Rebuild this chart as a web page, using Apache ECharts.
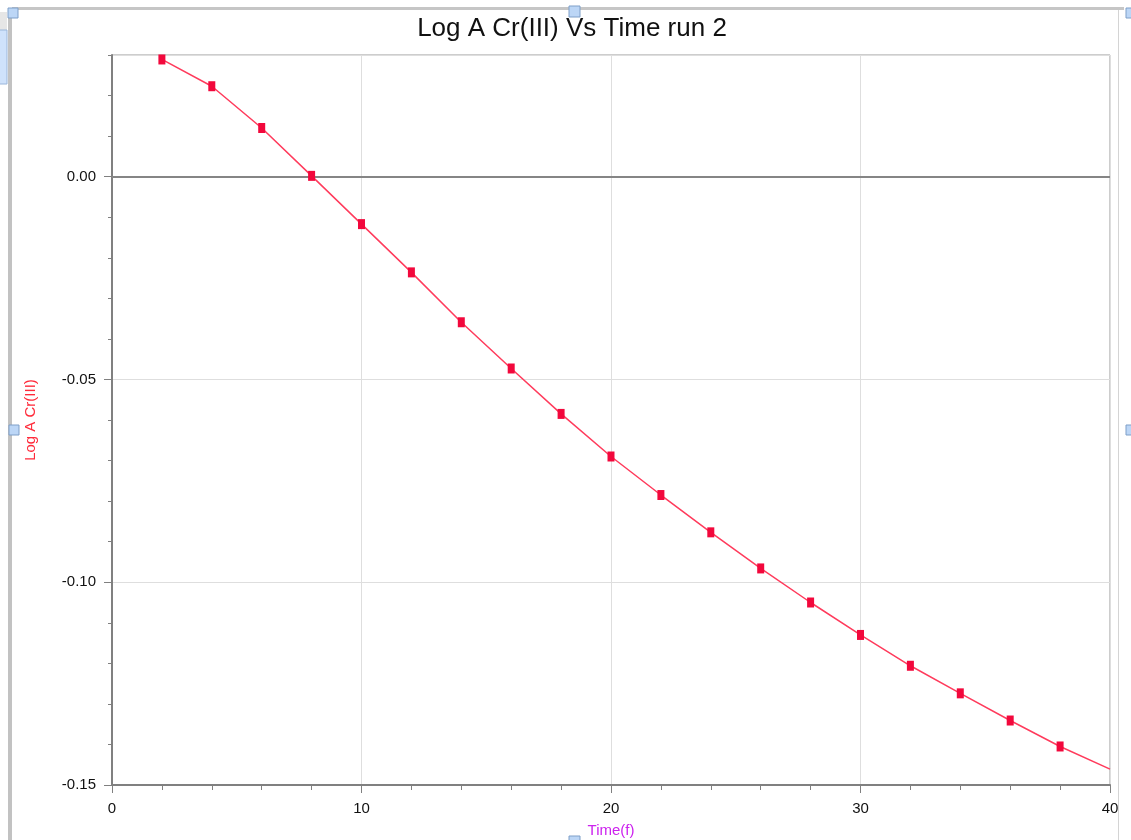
<!DOCTYPE html>
<html>
<head>
<meta charset="utf-8">
<title>Log A Cr(III) Vs Time run 2</title>
<script src="https://cdn.jsdelivr.net/npm/echarts@6/dist/echarts.min.js"></script>
<style>
  html, body { margin: 0; padding: 0; background: #ffffff; }
  #chart { width: 1131px; height: 840px; }
</style>
</head>
<body>
<div id="chart"></div>
<script>
// Time (f) readings and the matching log absorbance of Cr(III), run 2
const timeValues = [2, 4, 6, 8, 10, 12, 14, 16, 18, 20, 22, 24, 26, 28, 30, 32, 34, 36, 38, 40];
const logAValues = [0.0289, 0.0223, 0.0120, 0.0002, -0.0117, -0.0236, -0.0359, -0.0473, -0.0585, -0.0690,
                    -0.0785, -0.0877, -0.0966, -0.1050, -0.1130, -0.1206, -0.1274, -0.1341, -0.1405, -0.1461];
// the last reading sits on the right frame and has no visible marker
const hiddenMarkerTimes = [40];

const xTicks = { min: 0, max: 40, step: 10 };
const yTicks = { min: -0.15, max: 0.03, step: 0.05, minorStep: 0.01 };

const chartTitle = 'Log A Cr(III) Vs Time run 2';
const xName = 'Time(f)';
const yName = 'Log A Cr(III)';

const points = timeValues.map((t, i) => {
  const p = { value: [t, logAValues[i]] };
  if (hiddenMarkerTimes.includes(t)) p.symbolSize = 0;
  return p;
});

const chart = echarts.init(document.getElementById('chart'), null, { renderer: 'canvas' });
const FONT = '"Liberation Sans", Arial, sans-serif';
const handle = (x, y, w, h) => ({
  type: 'rect', shape: { x, y, width: w, height: h }, z: 100,
  style: { fill: '#bcd6f6', stroke: '#7e9fc8', lineWidth: 1 }
});

chart.setOption({
  animation: false,
  backgroundColor: '#ffffff',
  grid: {
    left: 112, top: 55, right: 21, bottom: 55,
    outerBoundsMode: 'none',
    containLabel: false,
    show: true, borderColor: '#9a9a9a', borderWidth: 1, backgroundColor: 'transparent'
  },
  xAxis: {
    type: 'value',
    min: xTicks.min, max: xTicks.max, interval: xTicks.step,
    name: xName, nameLocation: 'middle', nameGap: 38,
    nameTextStyle: { color: '#cc22ee', fontSize: 15, fontFamily: FONT },
    axisLine: { show: true, onZero: false, lineStyle: { color: '#808080', width: 2 } },
    axisTick: { show: true, length: 8, lineStyle: { color: '#808080', width: 1 } },
    minorTick: { show: true, splitNumber: 5, length: 5, lineStyle: { color: '#808080', width: 1 } },
    axisLabel: { color: '#111111', fontSize: 15, fontFamily: FONT, margin: 16 },
    splitLine: { show: true, lineStyle: { color: '#dedede', width: 1 } }
  },
  yAxis: [
    {
      type: 'value',
      min: yTicks.min, max: yTicks.max, interval: yTicks.step,
      name: yName, nameLocation: 'middle', nameGap: 74,
      nameTextStyle: { color: '#ff2a3a', fontSize: 15, fontFamily: FONT },
      axisLine: { show: true, onZero: false, lineStyle: { color: '#808080', width: 2 } },
      axisTick: { show: true, length: 8, lineStyle: { color: '#808080', width: 1 } },
      axisLabel: {
        color: '#111111', fontSize: 15, fontFamily: FONT, margin: 16,
        showMaxLabel: false,
        formatter: v => (Math.abs(v) < 1e-9 ? 0 : v).toFixed(2)
      },
      splitLine: { show: true, lineStyle: { color: '#dedede', width: 1 } }
    },
    {
      // minor ticks every 0.01 along the left axis
      type: 'value', position: 'left', offset: 0,
      min: yTicks.min, max: yTicks.max, interval: yTicks.minorStep,
      axisLine: { show: false },
      axisTick: { show: true, length: 4, lineStyle: { color: '#808080', width: 1 } },
      axisLabel: { show: false },
      splitLine: { show: false }
    }
  ],
  series: [{
    type: 'line',
    data: points,
    xAxisIndex: 0, yAxisIndex: 0,
    symbol: 'rect',
    symbolSize: [7, 10],
    showAllSymbol: true,
    itemStyle: { color: '#f2083c', borderWidth: 0 },
    lineStyle: { color: '#ff3b5c', width: 1.5 },
    z: 5,
    markLine: {
      silent: true, symbol: 'none', animation: false,
      label: { show: false },
      lineStyle: { color: '#858585', width: 2, type: 'solid' },
      data: [{ yAxis: 0 }],
      z: 3
    }
  }],
  graphic: [
    // window frame around the chart
    { type: 'rect', shape: { x: 12, y: 7, width: 1112, height: 3 }, style: { fill: '#c6c6c6' }, z: 90 },
    { type: 'rect', shape: { x: 8, y: 10, width: 4, height: 830 }, style: { fill: '#c2c2c2' }, z: 90 },
    { type: 'rect', shape: { x: 1118, y: 10, width: 1, height: 830 }, style: { fill: '#d4d4d4' }, z: 90 },
    { type: 'rect', shape: { x: 0, y: 12, width: 7, height: 18 }, style: { fill: '#e6e6e6' }, z: 90 },
    { type: 'rect', shape: { x: -1, y: 30, width: 8, height: 54 }, style: { fill: '#cfe2fb', stroke: '#9ab6da', lineWidth: 1 }, z: 90 },
    handle(8, 8, 10, 10),
    handle(569, 6, 11, 11),
    handle(1126, 8, 10, 10),
    handle(9, 425, 10, 10),
    handle(1126, 425, 10, 10),
    handle(569, 836, 11, 10),
    {
      type: 'text', x: 572, y: 29, z: 95,
      style: {
        text: chartTitle, fill: '#111111', fontSize: 26, fontFamily: FONT,
        align: 'center', verticalAlign: 'middle'
      }
    }
  ]
});
</script>
</body>
</html>
